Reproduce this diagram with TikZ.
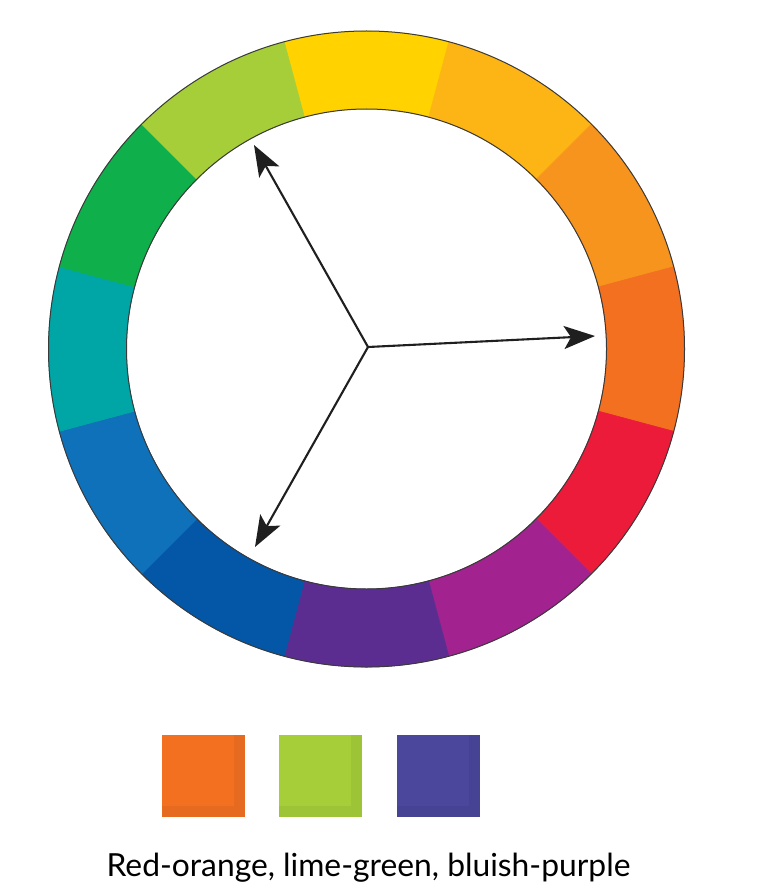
\documentclass[tikz,border=0pt]{standalone}
\usepackage{fontspec}
\setmainfont{Lato}
\usetikzlibrary{arrows.meta}
\definecolor{cY}{HTML}{FFD200}
\definecolor{cYO}{HTML}{FDB515}
\definecolor{cO}{HTML}{F7941E}
\definecolor{cRO}{HTML}{F37021}
\definecolor{cR}{HTML}{ED1B3A}
\definecolor{cRV}{HTML}{A2238F}
\definecolor{cV}{HTML}{5C2D91}
\definecolor{cBV}{HTML}{0456A6}
\definecolor{cB}{HTML}{0E71B9}
\definecolor{cT}{HTML}{00A6A6}
\definecolor{cG}{HTML}{0FB04B}
\definecolor{cYG}{HTML}{A6CE39}
\definecolor{swO}{HTML}{F37021}
\definecolor{swG}{HTML}{A6CE39}
\definecolor{swP}{HTML}{4A479C}
\definecolor{outl}{HTML}{3A3A3A}
\tikzset{
  arr/.style={draw=black!88, line width=2.1pt, -{Stealth[length=31pt,width=23pt,inset=7pt]}},
  swatch/.style={minimum width=83pt, minimum height=82pt, inner sep=0pt, outer sep=0pt},
  caption/.style={font=\fontsize{31.8pt}{38pt}\selectfont, text=black, inner sep=0pt}
}
\begin{document}
\begin{tikzpicture}[x=1pt,y=1pt]
\useasboundingbox[fill=white] (0,0) rectangle (758,-896);
\coordinate (c) at (366.5,-349);
% wheel segments
\begin{scope}[shift={(366.5pt,-349pt)}]
\foreach \a/\col in {90/cY,60/cYO,30/cO,0/cRO,-30/cR,-60/cRV,-90/cV,-120/cBV,-150/cB,180/cT,150/cG,120/cYG}{
  \filldraw[fill=\col, draw=\col, line width=0.6pt]
    (\a-15:318pt) arc[start angle=\a-15, end angle=\a+15, radius=318pt]
    -- (\a+15:240pt) arc[start angle=\a+15, end angle=\a-15, radius=240pt] -- cycle;
}
\draw[outl, line width=1pt] (0,0) circle[radius=318pt];
\draw[outl, line width=1pt] (0,0) circle[radius=240pt];
\end{scope}
% arrows
\coordinate (hub) at (368,-347);
\coordinate (tRO) at (595,-336);
\coordinate (tYG) at (254,-145);
\coordinate (tBP) at (255,-547);
\draw[arr] (hub) -- (tRO);
\draw[arr] (hub) -- (tYG);
\draw[arr] (hub) -- (tBP);
% swatches
\node[swatch, fill=swO] (s1) at (203.5,-776) {};
\node[swatch, fill=swG] (s2) at (320.5,-776) {};
\node[swatch, fill=swP] (s3) at (438,-776) {};
\foreach \s in {s1,s2,s3}{
  \fill[black, opacity=0.05] ([xshift=-11pt]\s.north east) rectangle (\s.south east);
  \fill[black, opacity=0.05] (\s.south west) rectangle ([yshift=11pt,xshift=-11pt]\s.south east);
}
% caption
\node[caption, anchor=base] (cap) at (368.5,-876) {Red-orange, lime-green, bluish-purple};
\end{tikzpicture}
\end{document}
